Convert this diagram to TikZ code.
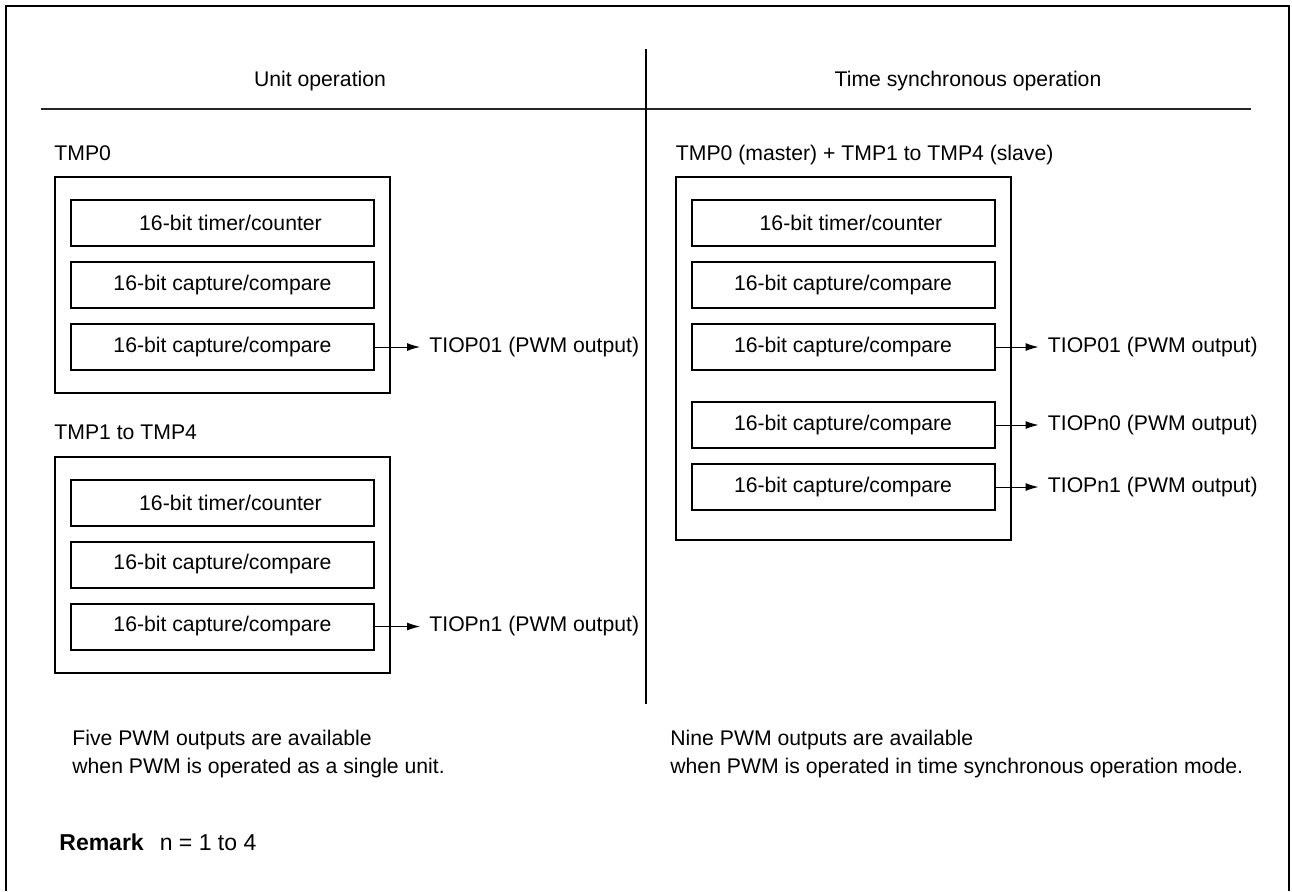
\documentclass[tikz,border=0pt]{standalone}
\usepackage{fontspec}
\setmainfont{Liberation Sans}
\usetikzlibrary{arrows.meta,positioning,calc,fit}
\tikzset{
  regbox/.style={
    draw,
    line width=1pt,
    minimum width=151.5pt,
    minimum height=23pt,
    inner sep=0pt
  },
  unitframe/.style={draw,line width=1pt,inner xsep=7.5pt,inner ysep=11pt},
  pwmarrow/.style={-{Latex[length=6.5pt,width=4pt]},line width=0.5pt},
  pwmlabel/.style={anchor=west,inner sep=0pt}
}
\newcommand{\TimerCnt}{\hspace*{8pt}16-bit timer/counter}
\newcommand{\CapCmp}{16-bit capture/compare}

\begin{document}
\begin{tikzpicture}[x=0.5pt,y=-0.5pt,node distance=7pt,
    font=\fontsize{10.6}{14}\selectfont]
  \useasboundingbox (0,0) rectangle (1292,891);
  % page frame, bottom edge cut off
  \draw[line width=1pt] (6,891) -- (6,6) -- (1289,6) -- (1289,891);
  \draw[line width=1pt,black!85] (41,109) -- (1251,109);
  \draw[line width=1pt] (646,49) -- (646,704);
  \node (hunit) at (320,81) {Unit operation};
  \node (hsync) at (968,81) {Time synchronous operation};

  % TMP0 alone
  \node[regbox] (a1) at (222.5,223) {\TimerCnt};
  \node[regbox,below=of a1] (a2) {\CapCmp};
  \node[regbox,below=of a2] (a3) {\CapCmp};
  \node[unitframe,fit=(a1)(a3)] (tmpa) {};
  \node[anchor=base west,inner sep=0pt] (tmpalbl)
    at ($(tmpa.north west)+(0,-16)$) {TMP0};
  \node[pwmlabel] (pa3) at ($(a3.east)+(54,0)$) {TIOP01 (PWM output)};
  \draw[pwmarrow,shorten >=4.5pt] (a3.east) -- (pa3.west);

  % TMP1 to TMP4
  \node[regbox] (c1) at (222.5,502.5) {\TimerCnt};
  \node[regbox,below=of c1] (c2) {\CapCmp};
  \node[regbox,below=of c2] (c3) {\CapCmp};
  \node[unitframe,fit=(c1)(c3)] (tmpc) {};
  \node[anchor=base west,inner sep=0pt] (tmpclbl)
    at ($(tmpc.north west)+(0,-16)$) {TMP1 to TMP4};
  \node[pwmlabel] (pc3) at ($(c3.east)+(54,0)$) {TIOPn1 (PWM output)};
  \draw[pwmarrow,shorten >=4.5pt] (c3.east) -- (pc3.west);

  % master + slaves
  \node[regbox] (b1) at (843,223) {\TimerCnt};
  \node[regbox,below=of b1] (b2) {\CapCmp};
  \node[regbox,below=of b2] (b3) {\CapCmp};
  \node[regbox,below=15pt of b3] (b4) {\CapCmp};
  \node[regbox,below=of b4] (b5) {\CapCmp};
  \coordinate (b5low) at ($(b5.south)+(0,7)$);
  \node[unitframe,fit=(b1)(b5)(b5low)] (tmpb) {};
  \node[anchor=base west,inner sep=0pt] (tmpblbl)
    at ($(tmpb.north west)+(1,-16)$) {TMP0 (master) + TMP1 to TMP4 (slave)};
  \node[pwmlabel] (pb3) at ($(b3.east)+(52,0)$) {TIOP01 (PWM output)};
  \node[pwmlabel] (pb4) at ($(b4.east)+(52,0)$) {TIOPn0 (PWM output)};
  \node[pwmlabel] (pb5) at ($(b5.east)+(52,0)$) {TIOPn1 (PWM output)};
  \draw[pwmarrow,shorten >=4.5pt] (b3.east) -- (pb3.west);
  \draw[pwmarrow,shorten >=4.5pt] (b4.east) -- (pb4.west);
  \draw[pwmarrow,shorten >=4.5pt] (b5.east) -- (pb5.west);

  % notes
  \node[anchor=north west,align=left,inner sep=0pt] (nunit) at (72,730)
    {Five PWM outputs are available\\when PWM is operated as a single unit.};
  \node[anchor=north west,align=left,inner sep=0pt] (nsync) at (670,730)
    {Nine PWM outputs are available\\when PWM is operated in time synchronous operation mode.};
  \node[anchor=base west,inner sep=0pt] (remark) at (59,850)
    {\fontsize{11.5}{14}\selectfont\textbf{Remark}\hspace{8pt}n = 1 to 4};
\end{tikzpicture}
\end{document}
